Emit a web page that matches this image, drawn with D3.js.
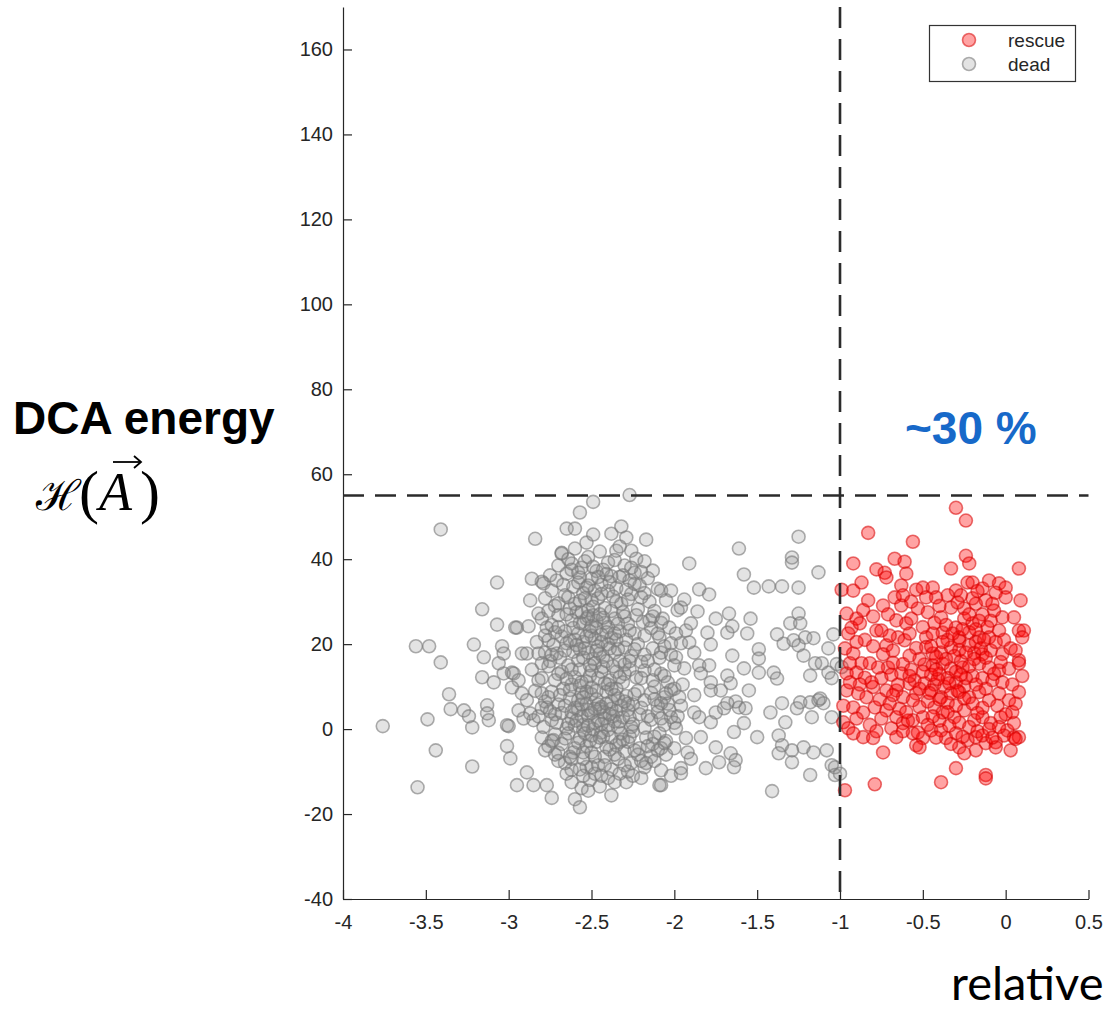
<!DOCTYPE html>
<html><head><meta charset="utf-8">
<script src="https://cdn.jsdelivr.net/npm/d3@7"></script>
<style>body{margin:0;background:#fff}</style>
</head><body>
<svg id="c" width="1106" height="1009"></svg>
<script>
const xTicks=[-4,-3.5,-3,-2.5,-2,-1.5,-1,-0.5,0,0.5];
const xTickLabels=["-4","-3.5","-3","-2.5","-2","-1.5","-1","-0.5","0","0.5"];
const yTicks=[-40,-20,0,20,40,60,80,100,120,140,160];
const yTickLabels=["-40","-20","0","20","40","60","80","100","120","140","160"];
const thresholdX=-1;
const thresholdY=55;
const seriesNames=["rescue","dead"];

const deadPoints=[
[-3.41,47.0],[-2.84,44.8],[-2.65,47.2],[-2.60,47.2],[-2.49,53.5],[-2.57,51.0],[-2.53,43.9],[-2.68,41.3],[-3.07,34.5],[-2.86,35.4],[-2.79,34.3],[-3.16,28.2],[-3.07,24.6],[-2.95,23.9],[-2.88,24.2],[-3.56,19.5],[-3.48,19.5],[-3.21,19.9],[-3.04,19.5],[-3.15,16.9],[-3.41,15.7],[-3.06,15.5],[-3.16,12.2],[-3.09,11.0],[-3.03,13.1],[-3.36,8.2],[-3.35,4.7],[-3.27,4.4],[-3.24,3.0],[-3.22,0.4],[-3.13,5.6],[-3.13,3.7],[-3.12,2.1],[-3.76,0.7],[-3.49,2.3],[-3.00,0.7],[-3.44,-5.0],[-3.22,-8.8],[-3.01,-4.0],[-2.99,-6.9],[-3.55,-13.7],[-2.89,-10.2],[-2.95,-13.2],[-2.85,-13.2],[-2.77,-13.2],[-2.74,-16.2],[-2.60,-16.5],[-2.56,-13.9],[-2.27,55.1],
[-2.92,17.8],[-2.89,17.8],[-2.98,13.3],[-2.94,11.5],[-2.98,9.8],[-2.92,8.4],[-2.89,6.8],[-2.87,3.7],[-2.85,2.1],[-2.94,4.4],[-2.91,2.5],[-2.82,11.5],[-2.80,8.4],[-2.77,5.1],[-2.74,2.1],[-2.73,-2.6],[-2.70,-5.6],[-2.63,-6.5],[-2.62,-9.6],[-2.53,-8.9],[-2.51,-12.0],[-2.82,27.2],[-2.77,23.9],[-2.76,20.9],[-2.82,17.8],[-2.71,17.8],[-2.74,32.6],[-2.70,29.6],[-2.71,35.0],[-2.65,36.6],[-2.62,39.0],[-2.57,35.7],[-2.53,33.3],[-2.50,30.3],
[-2.49,45.8],[-2.38,46.0],[-2.32,47.7],[-2.29,45.1],[-2.17,44.6],[-2.35,42.0],[-2.26,42.0],[-2.23,40.1],[-2.68,41.5],[-2.70,38.5],[-2.80,34.7],[-2.13,37.3],[-2.87,30.3],[-2.96,23.9],[-3.03,17.8],[-2.97,13.1],[-3.01,0.9],[-2.38,-15.6],[-2.29,-12.5],[-2.09,-13.2],[-2.17,-8.0],[-2.08,-9.7],[-2.57,-18.4],
[-2.60,42.5],[-2.52,40.5],[-2.45,41.8],[-2.40,39.2],[-2.33,43.0],[-2.56,38.0],[-2.47,37.2],[-2.38,36.0],[-2.30,38.5],[-2.24,36.8],[-2.18,39.5],[-2.64,40.0],
[-2.75,36.2],[-2.67,34.0],[-2.61,33.5],[-2.58,36.8],[-2.50,35.4],[-2.44,34.0],[-2.41,36.5],[-2.35,33.2],[-2.27,35.0],[-2.21,33.8],[-2.16,35.5],[-2.10,33.0],[-2.55,32.0],[-2.48,32.6],
[-2.78,30.8],[-2.72,29.0],[-2.66,31.5],[-2.63,28.4],[-2.57,30.2],[-2.52,28.0],[-2.46,30.8],[-2.42,28.5],[-2.37,31.2],[-2.32,29.5],[-2.26,31.8],[-2.22,28.2],[-2.15,30.0],[-2.12,27.8],[-2.59,27.5],[-2.49,26.8],[-2.40,32.5],[-2.30,26.5],
[-2.80,26.0],[-2.74,24.5],[-2.70,26.8],[-2.66,23.0],[-2.62,25.6],[-2.58,22.5],[-2.55,24.8],[-2.51,23.0],[-2.47,25.5],[-2.44,22.2],[-2.40,24.0],[-2.36,26.0],[-2.33,23.0],[-2.28,24.8],[-2.24,22.5],[-2.19,25.2],[-2.14,23.8],[-2.08,25.0],[-2.68,21.8],[-2.52,26.5],[-2.38,21.5],[-2.29,21.0],
[-2.83,20.5],[-2.78,18.0],[-2.73,19.8],[-2.69,16.8],[-2.65,20.2],[-2.61,18.2],[-2.58,16.2],[-2.55,20.5],[-2.52,18.0],[-2.49,16.5],[-2.46,19.5],[-2.43,17.0],[-2.40,20.0],[-2.36,18.0],[-2.33,16.0],[-2.30,19.2],[-2.26,17.2],[-2.22,20.0],[-2.18,17.5],[-2.13,19.0],[-2.09,16.8],[-2.60,21.0],[-2.48,21.2],[-2.35,21.0],[-2.75,16.0],[-2.20,15.8],
[-2.86,14.0],[-2.80,12.0],[-2.76,14.8],[-2.72,11.5],[-2.68,13.5],[-2.64,15.0],[-2.60,12.2],[-2.57,14.0],[-2.53,11.2],[-2.50,13.8],[-2.46,12.0],[-2.43,14.6],[-2.39,11.5],[-2.35,13.5],[-2.31,11.0],[-2.27,14.0],[-2.23,12.2],[-2.18,13.8],[-2.13,11.5],[-2.08,13.0],[-2.04,11.0],[-2.62,10.5],[-2.48,15.5],[-2.30,15.2],
[-2.84,9.0],[-2.78,6.5],[-2.74,8.8],[-2.70,5.8],[-2.67,9.5],[-2.63,7.2],[-2.60,5.0],[-2.56,8.5],[-2.53,6.0],[-2.50,9.8],[-2.47,7.0],[-2.44,5.2],[-2.41,8.8],[-2.38,6.5],[-2.35,9.5],[-2.32,5.5],[-2.29,7.8],[-2.25,5.8],[-2.22,9.0],[-2.18,6.8],[-2.14,8.5],[-2.10,5.5],[-2.06,7.5],[-2.02,9.2],[-2.57,10.2],[-2.40,10.5],
[-2.82,3.0],[-2.79,0.5],[-2.75,4.2],[-2.71,1.5],[-2.68,3.8],[-2.65,0.2],[-2.62,2.5],[-2.58,4.5],[-2.55,1.0],[-2.52,3.2],[-2.49,0.0],[-2.46,2.0],[-2.43,4.0],[-2.40,1.0],[-2.37,3.0],[-2.34,0.5],[-2.31,2.8],[-2.28,4.5],[-2.25,1.2],[-2.21,3.5],[-2.18,0.3],[-2.14,2.2],[-2.10,4.0],[-2.06,1.0],[-2.02,2.8],[-2.56,3.0],[-2.45,4.8],[-2.35,4.2],[-2.60,0.8],
[-2.80,-2.0],[-2.76,-4.0],[-2.72,-1.2],[-2.68,-3.5],[-2.64,-1.0],[-2.60,-4.5],[-2.57,-2.2],[-2.53,-4.0],[-2.50,-1.5],[-2.47,-3.0],[-2.44,-0.8],[-2.41,-4.2],[-2.38,-2.0],[-2.35,-3.8],[-2.32,-1.0],[-2.28,-3.0],[-2.25,-0.5],[-2.21,-4.5],[-2.17,-2.0],[-2.13,-3.5],[-2.09,-1.0],[-2.05,-2.8],[-2.55,-0.2],[-2.40,-0.2],
[-2.72,-6.0],[-2.66,-8.0],[-2.61,-5.5],[-2.55,-7.0],[-2.50,-5.5],[-2.46,-8.5],[-2.42,-6.5],[-2.38,-9.5],[-2.34,-7.0],[-2.30,-5.2],[-2.26,-8.0],[-2.22,-6.0],[-2.18,-9.0],[-2.14,-6.5],[-2.10,-5.0],[-2.48,-10.5],[-2.40,-11.5],[-2.55,-11.0],[-2.33,-10.5],[-2.25,-11.0],[-2.65,-10.5],[-2.45,-13.5],
[-2.54,19.0],[-2.50,22.0],[-2.44,20.5],[-2.42,25.0],[-2.47,23.8],[-2.53,26.0],[-2.57,18.8],[-2.45,17.8],[-2.39,19.0],[-2.51,15.0],
[-2.58,6.8],[-2.52,4.5],[-2.46,5.8],[-2.42,2.5],[-2.38,4.8],[-2.34,7.2],[-2.48,1.5],[-2.54,-1.0],[-2.43,-1.8],[-2.36,1.8],[-2.31,-2.5],[-2.62,4.0],[-2.28,6.0],[-2.50,8.2],
[-2.15,25.6],[-2.03,23.9],[-1.99,22.5],[-2.09,21.6],[-2.12,-7.5],[-2.05,-6.0],[-2.00,-4.5],[-2.03,4.5],[-1.98,3.0],[-2.12,10.0],[-2.00,9.5],[-2.06,12.5],[-2.02,17.5],[-2.06,19.5],
[-2.62,37.5],[-2.54,39.5],[-2.49,38.2],[-2.43,37.5],[-2.36,39.8],[-2.31,36.2],[-2.26,38.0],[-2.20,37.0],[-2.58,34.5],[-2.52,33.8],[-2.46,35.8],[-2.39,34.6],[-2.33,35.8],[-2.29,32.8],[-2.24,34.2],[-2.18,32.0],[-2.64,31.0],[-2.60,29.5],[-2.54,30.8],[-2.44,31.8],[-2.35,30.0],[-2.28,30.5],[-2.20,31.0],
[-2.76,27.8],[-2.72,22.8],[-2.65,27.0],[-2.61,23.8],[-2.56,27.5],[-2.53,21.8],[-2.49,28.8],[-2.45,27.0],[-2.41,22.8],[-2.38,27.8],[-2.34,24.8],[-2.31,27.5],[-2.27,23.2],[-2.23,26.8],[-2.18,22.0],[-2.13,26.5],[-2.10,22.5],[-2.57,25.0],[-2.50,24.2],[-2.43,26.2],[-2.36,22.5],[-2.63,20.8],[-2.70,24.0],[-2.78,22.0],
[-2.80,15.5],[-2.74,17.5],[-2.70,13.0],[-2.66,18.5],[-2.62,14.0],[-2.59,19.8],[-2.55,16.8],[-2.51,12.5],[-2.47,18.5],[-2.44,13.5],[-2.41,16.0],[-2.37,14.8],[-2.34,18.8],[-2.30,13.0],[-2.27,16.0],[-2.24,18.8],[-2.20,12.0],[-2.16,16.0],[-2.12,14.0],[-2.08,18.0],[-2.56,11.0],[-2.42,10.8],[-2.33,12.2],[-2.65,11.8],
[-2.80,5.0],[-2.76,7.5],[-2.72,3.5],[-2.69,8.0],[-2.66,5.5],[-2.63,9.2],[-2.59,2.0],[-2.56,5.8],[-2.53,8.8],[-2.50,3.8],[-2.47,9.0],[-2.44,1.2],[-2.41,6.0],[-2.39,3.5],[-2.36,8.0],[-2.33,1.8],[-2.30,6.5],[-2.27,2.8],[-2.24,8.2],[-2.20,5.0],[-2.16,3.0],[-2.12,7.0],[-2.08,2.5],[-2.04,6.0],[-2.48,4.8],[-2.55,7.5],[-2.38,9.5],[-2.26,0.5],[-2.52,0.8],[-2.64,1.2],[-2.00,1.5],[-1.96,5.5],
[-2.78,-5.0],[-2.74,-2.8],[-2.70,-7.5],[-2.66,-2.2],[-2.62,-7.0],[-2.58,-3.2],[-2.55,-5.5],[-2.51,-2.8],[-2.48,-6.5],[-2.45,-2.0],[-2.42,-8.5],[-2.39,-4.8],[-2.36,-6.0],[-2.33,-3.0],[-2.30,-8.5],[-2.27,-1.8],[-2.24,-5.0],[-2.20,-7.5],[-2.16,-4.0],[-2.12,-1.8],[-2.08,-4.5],[-2.57,-9.5],[-2.50,-9.0],[-2.44,-11.0],[-2.36,-12.5],[-2.28,-10.0],[-2.20,-11.5],[-2.62,-12.5],[-2.52,-14.5],
[-1.95,10.5],[-1.92,-5.5],[-1.88,8.0],[-1.90,-7.0],[-2.02,-11.0],[-1.98,28.0],[-1.94,30.5],[-1.88,18.0],
[-1.25,45.3],[-1.61,42.5],[-1.29,40.4],[-1.29,39.2],[-1.13,36.9],[-1.91,39.0],[-1.58,36.4],[-1.52,33.3],[-1.43,33.6],[-1.35,33.6],[-1.25,33.3],[-1.85,32.9],[-1.79,31.7],[-2.08,32.6],[-2.02,32.6],[-2.05,30.3],[-1.96,28.6],[-2.07,26.0],
[-1.86,27.7],[-1.75,26.0],[-1.67,27.2],[-1.54,26.0],[-1.65,24.2],[-1.68,22.7],[-1.56,22.5],[-1.80,22.7],[-1.78,19.9],[-1.90,24.9],[-1.93,23.2],
[-1.25,27.2],[-1.30,24.9],[-1.24,24.9],[-1.38,22.3],[-1.34,20.1],[-1.28,20.9],[-1.25,19.7],[-1.21,21.6],[-1.16,21.4],[-1.22,17.3],[-1.15,15.5],[-1.07,19.0],[-1.11,15.5],[-1.07,13.3],[-1.18,12.6],[-1.04,22.3],
[-2.02,20.2],[-1.96,20.2],[-1.91,20.4],[-1.99,16.9],[-1.94,14.3],[-2.00,15.0],
[-1.65,17.3],[-1.49,18.8],[-1.49,16.6],[-1.58,14.3],[-1.40,13.3],[-1.38,11.9],[-1.49,13.3],
[-1.85,15.0],[-1.79,15.0],[-1.84,13.1],[-1.78,11.0],[-1.72,9.1],[-1.68,12.6],[-1.66,10.8],[-1.78,9.1],
[-1.55,9.1],[-1.61,5.1],[-1.57,4.9],[-1.63,6.5],[-2.05,8.4],[-1.97,7.5],[-2.08,6.1],
[-1.88,3.9],[-1.85,2.8],[-1.75,3.9],[-1.70,4.9],[-1.68,6.1],[-1.78,1.6],
[-1.42,3.9],[-1.35,6.1],[-1.26,4.9],[-1.24,6.3],[-1.18,6.3],[-1.13,6.8],[-1.10,6.1],[-1.17,2.8],[-1.05,2.8],[-1.33,1.6],
[-1.58,1.4],[-1.64,-0.7],[-1.50,-1.9],[-1.37,-1.5],[-1.99,0.2],[-1.93,-2.1],[-2.06,-3.3],[-2.08,-13.2],[-1.84,-1.9],
[-1.75,-4.3],[-1.73,-7.8],[-1.81,-9.2],[-1.66,-5.7],[-1.63,-7.3],[-1.64,-9.0],[-1.96,-9.2],[-1.96,-10.4],
[-1.35,-3.8],[-1.37,-5.7],[-1.29,-5.0],[-1.29,-7.8],[-1.22,-4.3],[-1.16,-5.5],[-1.08,-5.0],[-1.05,-8.5],[-1.18,-10.8],[-1.03,-10.8],[-1.41,-14.6],
[-1.02,15.3],[-0.99,14.6],[-1.05,12.0],[-1.12,7.2],[-1.03,-9.0],[-1.00,-10.5]
];

const rescuePoints=[
[-0.30,52.1],[-0.24,49.1],[-0.83,46.2],[-0.56,44.1],[-0.92,39.0],[-0.67,40.1],[-0.61,39.4],[-0.78,37.6],[-0.73,36.8],[-0.72,35.7],[-0.60,36.6],[-0.33,37.8],[-0.24,40.8],[-0.22,39.0],[0.08,37.8],
[-0.87,34.5],[-0.99,32.8],[-0.92,32.6],[-0.63,33.8],[-0.54,32.8],[-0.50,33.3],[-0.44,33.3],[-0.42,31.0],[-0.30,32.6],[-0.23,34.5],[-0.20,34.5],[-0.14,33.1],[-0.10,35.0],[-0.04,34.3],[0.00,33.3],[-0.06,32.1],[0.09,30.3],
[-0.83,30.3],[-0.74,29.1],[-0.67,31.0],[-0.63,29.1],[-0.53,28.4],[-0.39,26.3],[-0.33,28.6],[-0.25,28.4],[-0.18,29.5],[-0.12,30.3],[0.00,31.0],[0.05,26.3],[-0.02,26.3],[-0.07,27.9],
[-0.96,27.2],[-0.90,26.0],[-0.93,23.9],[-0.88,24.9],[-0.78,23.2],[-0.75,23.2],[-0.66,25.6],[-0.60,24.9],[-0.65,21.6],
[-0.38,22.7],[-0.30,23.9],[-0.28,21.6],[-0.20,24.9],[-0.16,21.6],[-0.10,21.6],[-0.04,23.2],[0.08,23.2],[0.11,23.2],[0.10,21.6],[-0.48,21.6],[-0.44,22.5],[-0.61,20.9],
[-0.72,19.7],[-0.68,18.5],
[-0.54,19.1],[-0.48,19.3],[-0.44,17.8],[-0.39,18.0],[-0.33,19.2],[-0.28,18.6],[-0.22,19.7],[-0.19,17.9],[-0.14,17.6],[-0.09,18.5],[-0.02,17.7],
[0.08,16.2],[-0.92,17.8],[-0.87,15.5],[-0.82,15.5],[-0.96,13.1],[-0.90,13.3],[-0.85,12.1],
[-0.74,17.6],[-0.71,14.5],[-0.68,15.6],[-0.62,15.3],[-0.63,13.1],[-0.75,12.0],
[-0.49,15.2],[-0.44,15.0],[-0.38,15.4],[-0.33,14.2],[-0.26,14.5],[-0.16,15.4],[-0.10,14.5],[-0.04,13.8],[0.02,14.2],[0.08,15.5],
[-0.55,11.5],[-0.49,10.8],[-0.43,10.5],[-0.37,10.0],[-0.30,11.0],[-0.25,10.0],[-0.20,12.5],[-0.14,12.0],[-0.08,11.5],[-0.02,11.0],[0.04,10.5],
[-0.58,10.7],[-0.80,9.9],[-0.72,9.1],[-0.66,9.1],[-0.62,7.5],[0.08,8.7],
[-0.96,9.1],[-0.89,8.4],[-0.84,7.5],[-0.92,5.1],[-0.86,3.9],[-0.79,5.1],
[-0.54,8.4],[-0.45,9.1],[-0.39,7.5],[-0.33,8.4],[-0.28,8.7],[-0.22,7.5],[-0.16,8.7],[-0.10,6.8],[-0.04,8.4],[0.02,6.8],
[-0.72,4.4],[-0.66,2.8],[-0.62,1.4],[-0.56,2.1],[-0.50,2.8],
[-0.43,5.1],[-0.38,3.9],[-0.31,2.8],[-0.25,4.4],[-0.19,2.1],[-0.14,2.8],[-0.09,1.4],[-0.03,2.8],[0.01,-0.3],[0.05,1.4],
[-0.98,1.6],[-0.95,0.2],[-0.92,-1.0],[-0.86,-1.9],[-0.80,-2.1],
[-0.69,0.2],[-0.66,-1.9],[-0.56,-1.0],[-0.50,-2.1],[-0.45,-0.3],
[-0.39,-0.3],[-0.36,-2.1],[-0.30,-1.0],[-0.23,-2.6],[-0.18,-1.9],[-0.12,-3.3],[-0.06,-3.1],[-0.01,-1.5],[0.05,-1.9],[0.08,-1.9],
[-0.54,-3.8],[-0.52,-4.3],[-0.28,-4.3],[-0.25,-5.7],[-0.18,-5.0],[-0.06,-4.3],[0.03,-5.0],[0.06,-2.3],
[-0.74,-5.5],[-0.30,-9.2],[-0.12,-10.8],[-0.12,-11.6],[-0.39,-12.5],[-0.79,-13.0],[-0.97,-14.4],
[-0.45,19.5],[-0.42,17.0],[-0.36,16.5],[-0.31,17.2],[-0.27,16.0],[-0.24,18.0],[-0.18,20.5],[-0.15,19.0],[-0.12,16.8],[-0.28,20.8],[-0.35,21.0],[-0.22,22.8],[-0.25,26.0],[-0.14,27.0],[-0.09,25.5],[-0.20,30.8],[-0.27,31.5],[-0.17,32.5],[-0.08,29.5],
[-0.40,13.0],[-0.35,12.0],[-0.30,13.5],[-0.22,14.8],[-0.45,12.8],[-0.50,13.5],[-0.52,16.5],[-0.57,14.0],[-0.58,17.3],
[-0.40,7.0],[-0.35,6.2],[-0.30,5.5],[-0.47,6.5],[-0.52,5.2],[-0.56,6.8],[-0.20,6.0],[-0.14,5.0],[-0.05,5.5],[0.04,4.0],
[-0.47,1.0],[-0.40,2.0],[-0.34,0.8],[-0.28,1.5],[-0.22,0.5],[-0.17,-0.5],[-0.10,0.0],[-0.04,0.5],
[-0.76,7.0],[-0.70,6.0],[-0.64,4.8],[-0.82,1.0],[-0.75,2.5],[-0.59,2.0],
[-0.85,21.0],[-0.80,19.5],[-0.90,20.5],[-0.94,15.5],[-0.97,19.0],[-0.86,28.0],[-0.71,27.0],[-0.57,26.0],[-0.47,27.5],[-0.43,25.0],[-0.36,24.5],[-0.50,24.0],
[-0.62,31.5],[-0.57,30.0],[-0.48,31.0],[-0.40,29.0],[-0.35,31.5],[-0.29,29.8],[-0.22,27.0],[-0.16,25.5],[-0.11,24.0],[-0.06,20.5],[-0.01,21.0],[0.03,19.0],[0.06,18.5],[-0.03,15.8],[-0.07,13.0],[-0.12,9.5],[-0.18,10.5],[-0.24,12.0],[-0.29,9.0],[-0.34,10.8],[-0.41,11.8],[-0.46,8.5],[-0.52,9.5],[-0.58,12.5],[-0.65,10.5],[-0.69,12.8],[-0.77,14.5],[-0.81,11.0],[-0.88,10.5],[-0.94,11.0],[-0.98,5.5],[-0.90,2.5],[-0.78,-0.5],[-0.62,-0.5],[-0.53,-0.8],[-0.42,-2.0],[-0.33,-3.5],[-0.26,-1.8],[-0.14,-1.5],[-0.08,-2.0],[0.00,3.5],[0.06,6.0],[0.10,12.5],[-0.38,20.5],[-0.32,22.5],[-0.26,23.5],[-0.18,23.5],[-0.13,21.0],[-0.42,14.0],[-0.27,12.8],[-0.19,16.5],[-0.35,4.0],[-0.25,7.2],[-0.17,3.8],[-0.44,3.0],[-0.60,4.0],[-0.68,8.0],[-0.58,22.5],[-0.70,22.0],[-0.80,26.5],[-0.95,22.5]
];

const svg=d3.select("#c");
const x=d3.scaleLinear().domain([-4,0.5]).range([343,1088.5]);
const y=d3.scaleLinear().domain([-40,170]).range([899,7]);
const axisColor="#262626";
const tickFont="'Liberation Sans', Arial, sans-serif";

const deadStyle={fill:"rgb(140,140,140)",fo:0.24,stroke:"rgb(120,120,120)",so:0.6};
const rescueStyle={fill:"rgb(255,0,0)",fo:0.36,stroke:"rgb(215,0,0)",so:0.55};

// points
svg.append("g").selectAll("circle").data(deadPoints).join("circle")
  .attr("cx",d=>x(d[0])).attr("cy",d=>y(d[1])).attr("r",6.5)
  .attr("fill",deadStyle.fill).attr("fill-opacity",deadStyle.fo)
  .attr("stroke",deadStyle.stroke).attr("stroke-opacity",deadStyle.so).attr("stroke-width",1.6);
svg.append("g").selectAll("circle").data(rescuePoints).join("circle")
  .attr("cx",d=>x(d[0])).attr("cy",d=>y(d[1])).attr("r",6.5)
  .attr("fill",rescueStyle.fill).attr("fill-opacity",rescueStyle.fo)
  .attr("stroke",rescueStyle.stroke).attr("stroke-opacity",rescueStyle.so).attr("stroke-width",1.6);

// axes
const gx=svg.append("g").attr("transform","translate(0,899)")
  .call(d3.axisBottom(x).tickValues(xTicks).tickFormat((d,i)=>xTickLabels[i]).tickSizeInner(-9).tickSizeOuter(0).tickPadding(16));
const gy=svg.append("g").attr("transform","translate(343,0)")
  .call(d3.axisLeft(y).tickValues(yTicks).tickFormat((d,i)=>yTickLabels[i]).tickSizeInner(-9).tickSizeOuter(0).tickPadding(10));
[gx,gy].forEach(g=>{
  g.selectAll("path,line").attr("stroke",axisColor).attr("stroke-width",1.2);
  g.selectAll("text").attr("fill",axisColor).style("font-family",tickFont).style("font-size","20px");
});

// threshold dashed lines
svg.append("line").attr("x1",x(-4)).attr("x2",x(0.5)).attr("y1",y(thresholdY)).attr("y2",y(thresholdY))
  .attr("stroke","#2b2b2b").attr("stroke-width",2.6).attr("stroke-dasharray","21,11");
svg.append("line").attr("x1",x(thresholdX)).attr("x2",x(thresholdX)).attr("y1",y(170)).attr("y2",y(-40))
  .attr("stroke","#2b2b2b").attr("stroke-width",2.6).attr("stroke-dasharray","21,11");

// legend
const lg=svg.append("g");
lg.append("rect").attr("x",929.5).attr("y",25.5).attr("width",146).attr("height",56)
  .attr("fill","#fff").attr("stroke","#333").attr("stroke-width",1.2);
[rescueStyle,deadStyle].forEach((s,i)=>{
  const cy=40+i*24;
  lg.append("circle").attr("cx",969).attr("cy",cy).attr("r",6.5)
    .attr("fill",s.fill).attr("fill-opacity",s.fo)
    .attr("stroke",s.stroke).attr("stroke-opacity",s.so).attr("stroke-width",1.6);
  lg.append("text").attr("x",1008).attr("y",cy+6.5).text(seriesNames[i])
    .attr("fill","#262626").style("font-family",tickFont).style("font-size","19px");
});

// annotations
svg.append("text").attr("x",13).attr("y",434).text("DCA energy")
  .style("font-family",tickFont).style("font-weight","bold").style("font-size","46px").attr("fill","#000");
svg.append("text").attr("x",905).attr("y",444).text("~30 %")
  .style("font-family",tickFont).style("font-weight","bold").style("font-size","46px").attr("fill","#1769c9");
svg.append("text").attr("x",951).attr("y",1000).text("relative")
  .style("font-family","Lato, 'Open Sans', sans-serif").style("font-size","47px").attr("fill","#000");

// math label H(A-vector)
const mg=svg.append("g").attr("fill","#000");
mg.append("text").attr("x",36).attr("y",510).text("\u210B")
  .style("font-family","'DejaVu Serif', serif").style("font-size","42px");
mg.append("text").attr("x",79).attr("y",512).text("(")
  .style("font-family","'Liberation Serif', serif").style("font-size","60px");
mg.append("text").attr("x",99).attr("y",510).text("A")
  .style("font-family","'Liberation Serif', serif").style("font-style","italic").style("font-size","54px");
mg.append("text").attr("x",140).attr("y",512).text(")")
  .style("font-family","'Liberation Serif', serif").style("font-size","60px");
mg.append("path").attr("d","M113,462H140").attr("stroke","#000").attr("stroke-width",1.8).attr("fill","none");
mg.append("path").attr("d","M134,456L141,462L134,468").attr("stroke","#000").attr("stroke-width",1.8).attr("fill","none");
</script>
</body></html>
